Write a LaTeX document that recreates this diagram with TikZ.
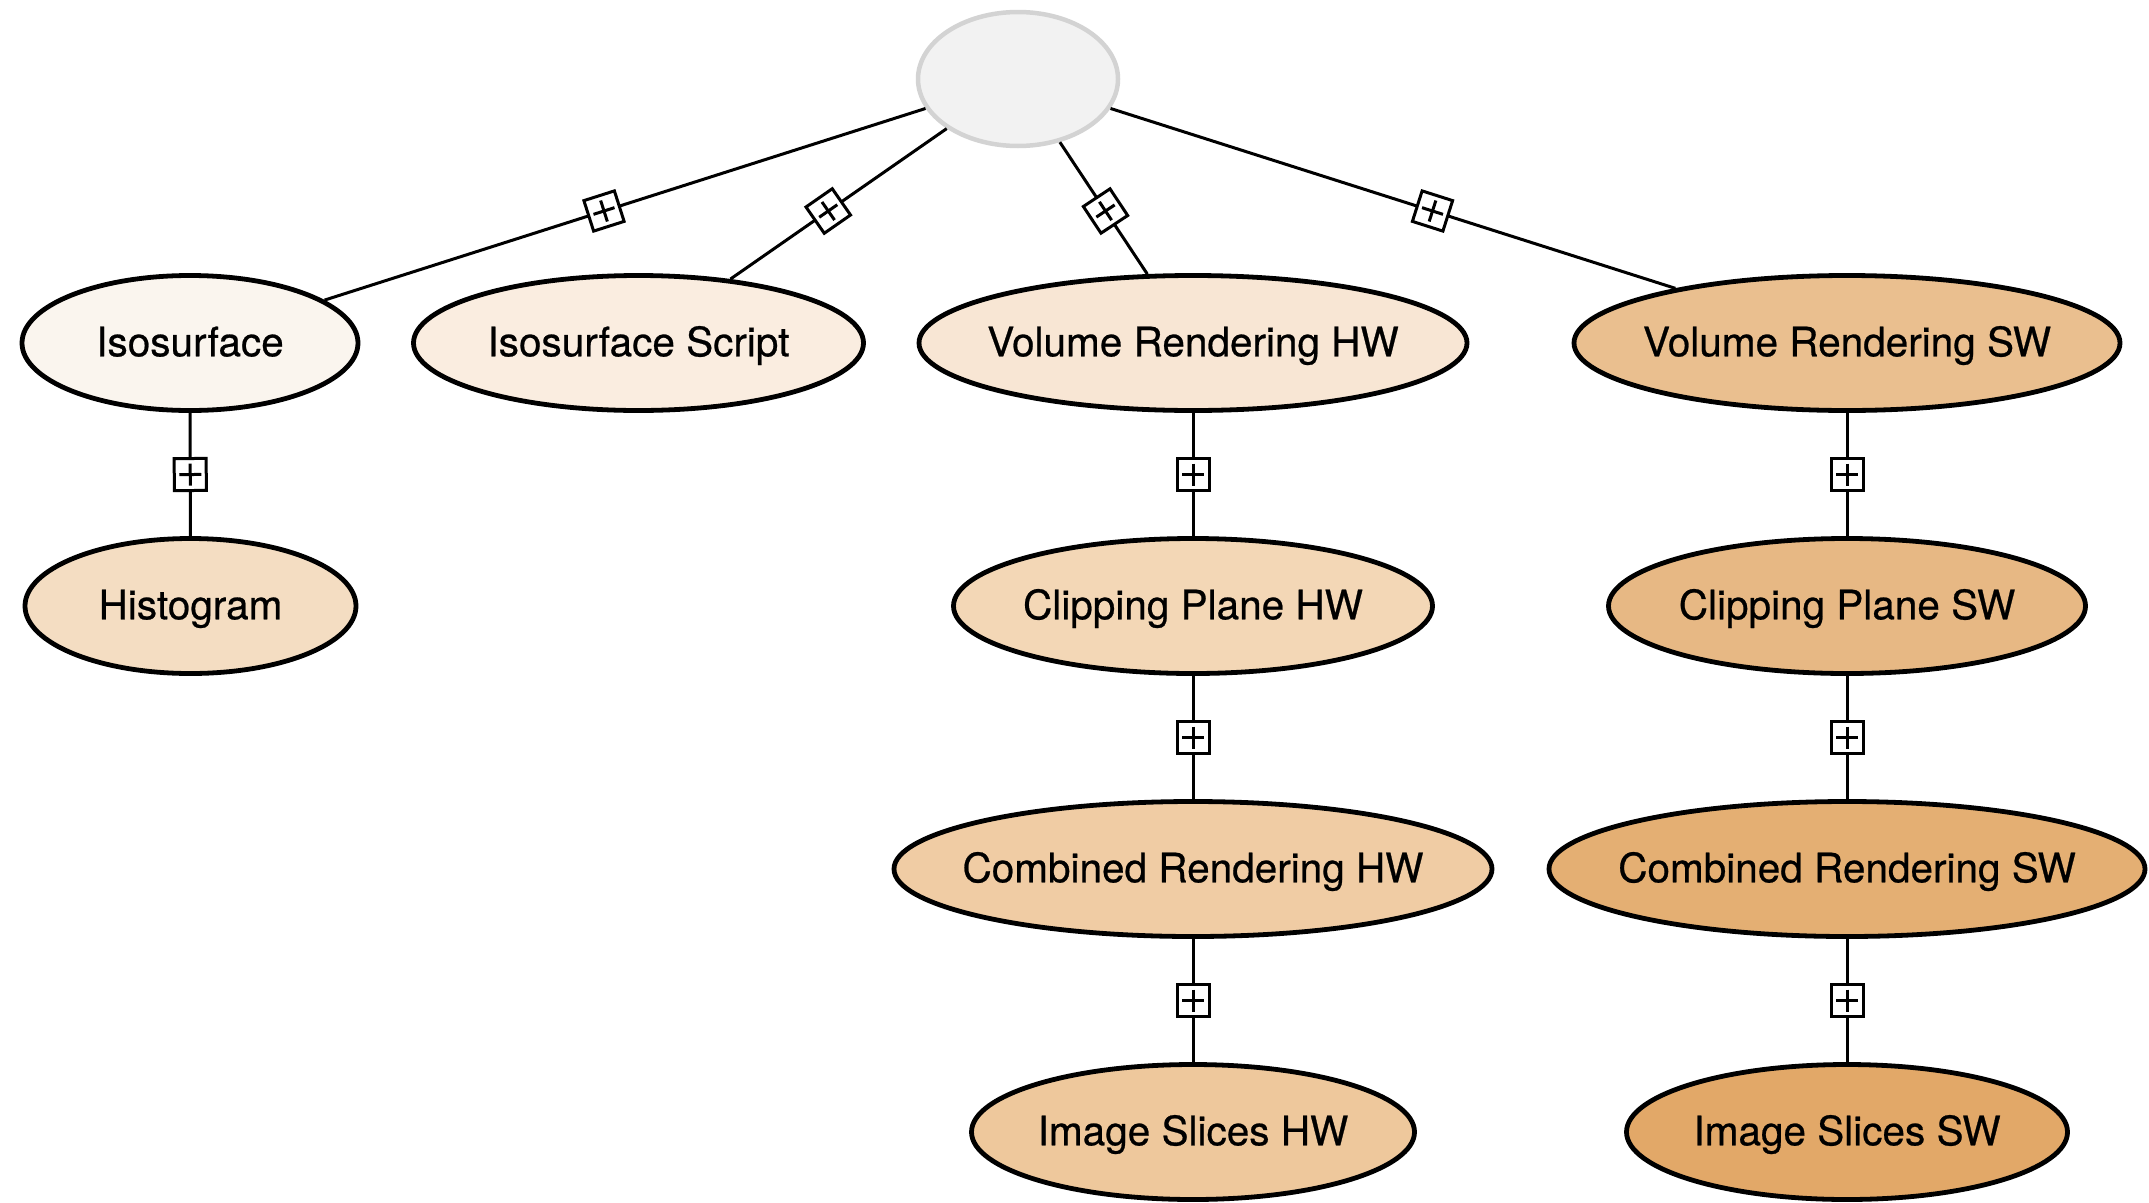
\documentclass[tikz,border=0pt]{standalone}
\usepackage{fontspec}
\setmainfont{TeX Gyre Heros}
\newfontfamily\labelfont[FakeBold=0.6]{TeX Gyre Heros}
\usetikzlibrary{shapes.geometric,calc}

\definecolor{rootfill}{HTML}{F2F2F2}
\definecolor{rootline}{HTML}{D3D3D3}
\definecolor{cIso}{HTML}{FAF5EE}
\definecolor{cIsoScript}{HTML}{FAEDE0}
\definecolor{cVrHW}{HTML}{F8E6D4}
\definecolor{cVrSW}{HTML}{EABF8F}
\definecolor{cHist}{HTML}{F4DDC2}
\definecolor{cCpHW}{HTML}{F3D7B6}
\definecolor{cCpSW}{HTML}{E7B884}
\definecolor{cCoHW}{HTML}{F0CCA4}
\definecolor{cCoSW}{HTML}{E4AF73}
\definecolor{cImHW}{HTML}{EEC89C}
\definecolor{cImSW}{HTML}{E2A868}

% label text takes no width, so the ellipse keeps its given size
\newcommand{\featlabel}[1]{\makebox[0pt]{#1}}

\tikzset{
  feature/.style={ellipse, draw=black, line width=4.8pt, inner sep=0pt,
    minimum height=135pt, text height=26.5pt, text depth=0pt,
    font=\labelfont\fontsize{40.5}{48}\selectfont, text=black},
  link/.style={draw=black, line width=3pt},
  plusbox/.style={rectangle, draw=black, fill=white, line width=3pt,
    minimum width=32pt, minimum height=32pt, inner sep=0pt, sloped,
    path picture={
      \draw[line width=3pt]
        ([xshift=-11pt]path picture bounding box.center) --
        ([xshift=11pt]path picture bounding box.center);
      \draw[line width=3pt]
        ([yshift=-11pt]path picture bounding box.center) --
        ([yshift=11pt]path picture bounding box.center);
    }},
}

\begin{document}
\begin{tikzpicture}[x=1pt, y=-1pt]
\useasboundingbox (0,0) rectangle (2149,1202);

% root
\node[ellipse, fill=rootfill, draw=rootline, line width=4.5pt, inner sep=0pt,
      minimum width=200pt, minimum height=134pt] (root) at (1018,79) {};

% first level
\node[feature, fill=cIso, minimum width=336pt] (iso) at (190,343) {\featlabel{Isosurface}};
\node[feature, fill=cIsoScript, minimum width=450pt] (isoscript) at (638.5,343) {\featlabel{Isosurface Script}};
\node[feature, fill=cVrHW, minimum width=548pt] (vrhw) at (1193,343) {\featlabel{Volume Rendering HW}};
\node[feature, fill=cVrSW, minimum width=546pt] (vrsw) at (1847,343) {\featlabel{Volume Rendering SW}};

% second level
\node[feature, fill=cHist, minimum width=331pt] (hist) at (190.5,606) {\featlabel{Histogram}};
\node[feature, fill=cCpHW, minimum width=479pt] (cphw) at (1193,606) {\featlabel{Clipping Plane HW}};
\node[feature, fill=cCpSW, minimum width=477pt] (cpsw) at (1847,606) {\featlabel{Clipping Plane SW}};

% third level
\node[feature, fill=cCoHW, minimum width=598pt] (cohw) at (1193,869) {\featlabel{Combined Rendering HW}};
\node[feature, fill=cCoSW, minimum width=596pt] (cosw) at (1847,869) {\featlabel{Combined Rendering SW}};

% fourth level
\node[feature, fill=cImHW, minimum width=443pt] (imhw) at (1193,1132) {\featlabel{Image Slices HW}};
\node[feature, fill=cImSW, minimum width=441pt] (imsw) at (1847,1132) {\featlabel{Image Slices SW}};

% connectors with a boxed plus at the midpoint between centres
\foreach \a/\b in {root/iso, root/isoscript, root/vrhw, root/vrsw,
                   iso/hist, vrhw/cphw, cphw/cohw, cohw/imhw,
                   vrsw/cpsw, cpsw/cosw, cosw/imsw} {
  \draw[link] (\a) -- (\b);
  \path (\a.center) -- (\b.center) node[pos=0.5, plusbox] {};
}
\end{tikzpicture}
\end{document}
